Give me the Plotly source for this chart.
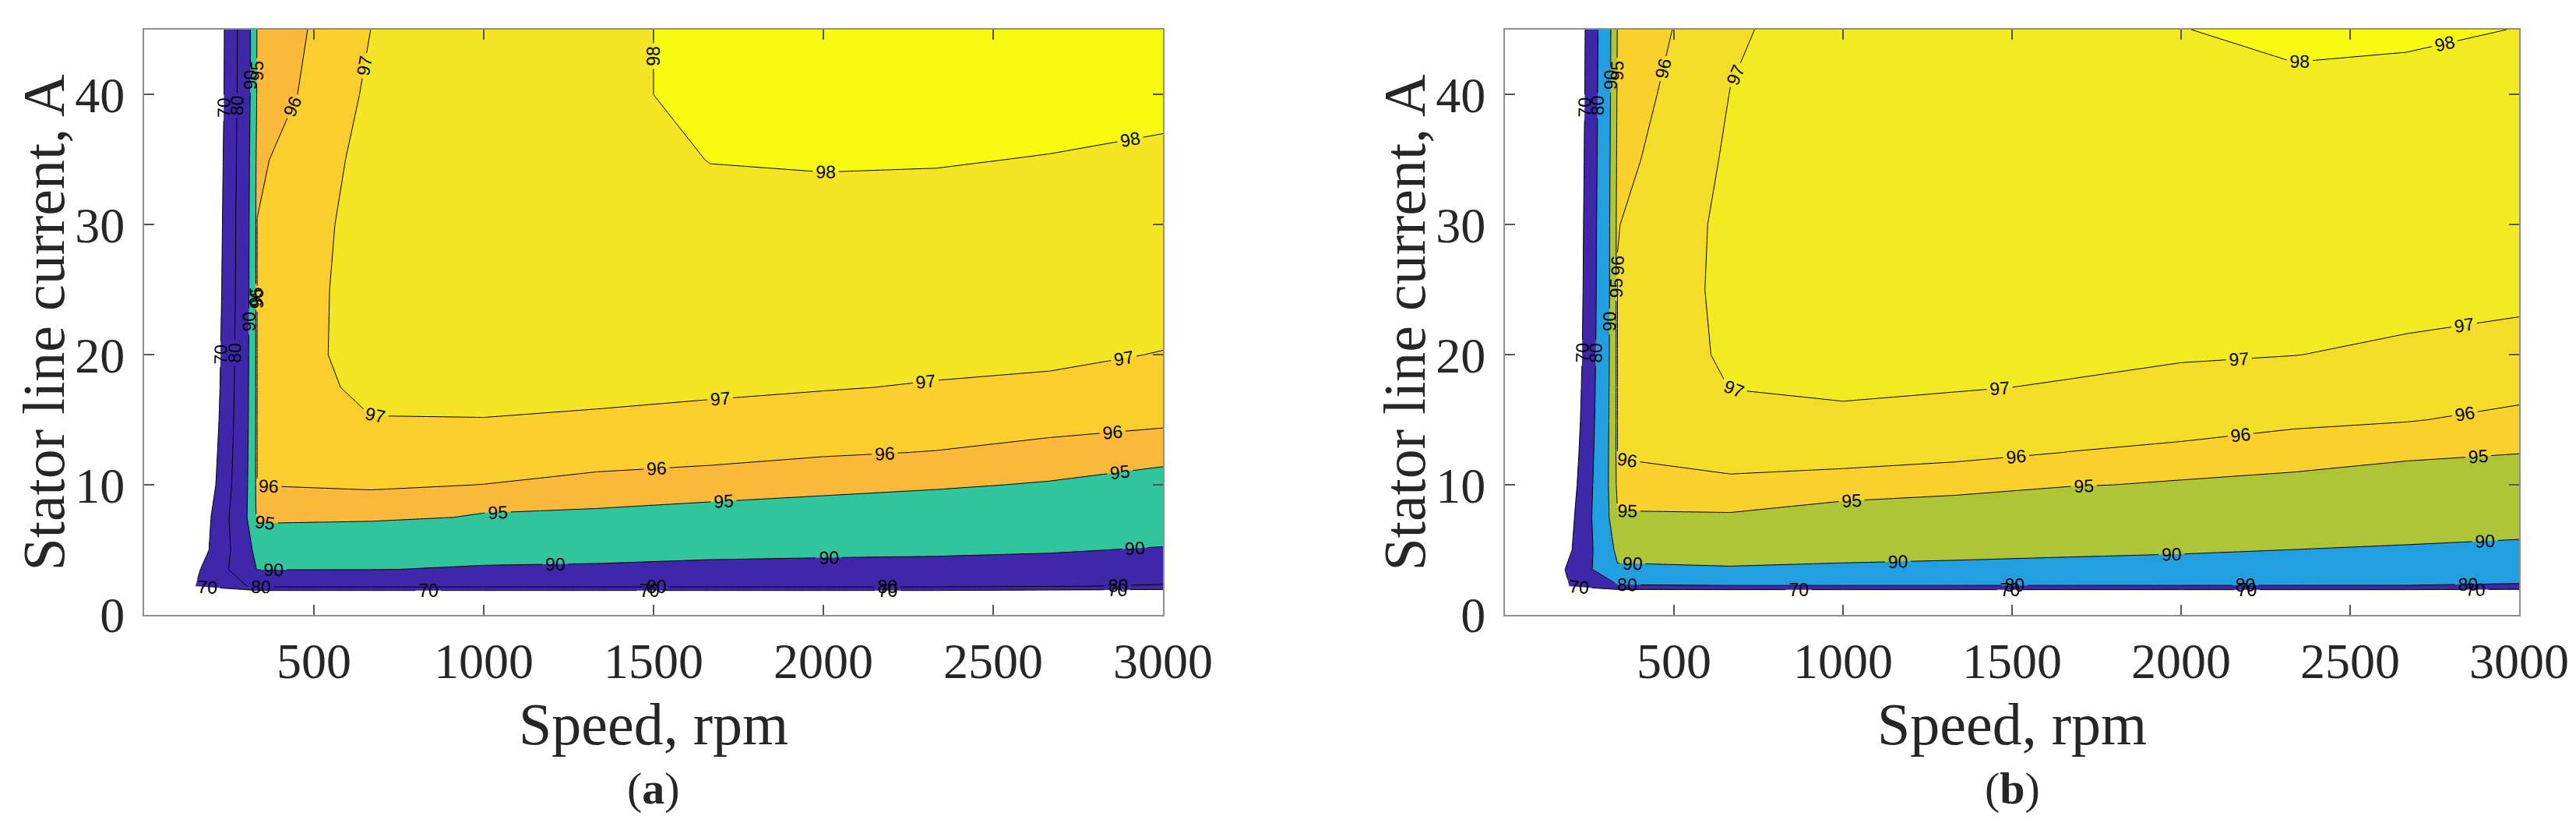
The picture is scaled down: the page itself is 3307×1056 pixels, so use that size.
import numpy as np
import plotly.graph_objects as go

# ---------------- data ----------------
speed_rpm = [0, 333, 667, 1000, 1333, 1667, 2000, 2333, 2667, 3000]
current_A = [0, 2.2, 3.5, 5, 7.5, 10, 12.5, 15, 17.5, 20, 25, 30, 35, 40, 45]

# efficiency (%) for each speed column, listed from 0 A up to 45 A  -- panel (a)
eff_a_by_speed = [
    [0, 60, 50, 40, 33, 25, 22, 19, 17, 15.7, 13, 11.5, 10, 9, 8.6],
    [0, 82, 90.2, 92.3, 95.6, 96.01, 96.02, 96.03, 96.03, 96.03, 96.03, 96.02, 95.84, 95.35, 95.2],
    [0, 82, 90.13, 92.1, 95.4, 96.11, 96.5, 96.95, 97.35, 97.58, 97.55, 97.45, 97.33, 97.18, 97.0],
    [0, 82, 89.6, 91.5, 94.85, 95.99, 96.5, 96.98, 97.25, 97.4, 97.55, 97.62, 97.66, 97.66, 97.6],
    [0, 82, 89.44, 91.3, 94.7, 95.8, 96.3, 96.9, 97.2, 97.38, 97.58, 97.7, 97.8, 97.88, 97.85],
    [0, 82, 89.14, 90.86, 94.5, 95.55, 96.3, 96.8, 97.12, 97.35, 97.62, 97.85, 98.01, 98.12, 98.15],
    [0, 82, 89.05, 90.64, 94.3, 95.35, 96.1, 96.6, 97.05, 97.3, 97.6, 97.83, 98.04, 98.18, 98.25],
    [0, 82, 89.0, 90.49, 94.1, 95.15, 95.97, 96.5, 96.94, 97.22, 97.55, 97.8, 98.03, 98.2, 98.3],
    [0, 80.5, 88.9, 90.22, 93.7, 94.9, 95.75, 96.3, 96.85, 97.15, 97.5, 97.75, 97.98, 98.2, 98.35],
    [0, 79, 88.0, 89.79, 91.9, 94.3, 95.55, 96.15, 96.55, 96.97, 97.4, 97.65, 97.9, 98.15, 98.3],
]

# efficiency (%) for each speed column, listed from 0 A up to 45 A  -- panel (b)
eff_b_by_speed = [
    [0, 58, 48, 38, 30, 24, 20, 17, 15, 13, 11, 10, 9, 8, 7.5],
    [0, 79, 89.2, 91.67, 94.8, 95.8, 96.05, 96.04, 96.04, 96.04, 96.04, 95.97, 95.7, 95.45, 95.2],
    [0, 79.5, 89.7, 91.5, 94.85, 95.85, 96.3, 96.7, 97.02, 97.2, 97.28, 97.26, 97.15, 97.02, 96.85],
    [0, 79.5, 89.45, 91.1, 94.3, 95.7, 96.3, 96.8, 97.15, 97.3, 97.45, 97.55, 97.6, 97.6, 97.55],
    [0, 79.5, 89.27, 90.83, 94.15, 95.4, 96.25, 96.7, 97.05, 97.25, 97.45, 97.58, 97.67, 97.73, 97.8],
    [0, 79.5, 89.1, 90.52, 93.2, 95.1, 95.99, 96.45, 96.95, 97.15, 97.42, 97.58, 97.68, 97.77, 97.88],
    [0, 79.5, 89.0, 90.27, 92.5, 94.85, 95.85, 96.3, 96.75, 97.08, 97.4, 97.6, 97.75, 97.88, 97.99],
    [0, 79.5, 88.5, 89.98, 92.1, 94.6, 95.62, 96.15, 96.62, 97.01, 97.35, 97.58, 97.75, 97.9, 98.1],
    [0, 79.5, 88.0, 89.68, 91.7, 94.2, 95.29, 96.05, 96.45, 96.88, 97.25, 97.5, 97.68, 97.85, 98.08],
    [0, 78.5, 87.5, 89.37, 91.33, 93.28, 95.08, 95.78, 96.26, 96.72, 97.2, 97.45, 97.65, 97.82, 97.99],
]

levels = [70, 80, 90, 95, 96, 97, 98]
fill_colors_a = ["#3e27a8", "#3e27a8", "#31c59d", "#fbb93c", "#face2d", "#f3e524", "#f8fa10"]
fill_colors_b = ["#3e27a8", "#229fe0", "#afc538", "#fad02d", "#f4dd29", "#f3eb21", "#f8fa10"]

x_ticks = [500, 1000, 1500, 2000, 2500, 3000]
y_ticks = [0, 10, 20, 30, 40]

x_title = "Speed, rpm"
y_title = "Stator line current, A"
panel_tags = ["(<b>a</b>)", "(<b>b</b>)"]

# ---------------- figure ----------------
W, H = 3307, 1056
SERIF = "Liberation Serif, Times New Roman, serif"
SANS = "Liberation Sans, Arial, sans-serif"
TXT = "#262626"
LABEL_DENSITY = 95   # extra (empty) levels -> plotly puts more labels on each line

fig = go.Figure()

panels = [
    (np.array(eff_a_by_speed).T, fill_colors_a, "x", "y"),
    (np.array(eff_b_by_speed).T, fill_colors_b, "x2", "y2"),
]
for z, cols, xa, ya in panels:
    # filled bands: constraint contours shade the region violating the constraint,
    # so "< lvl" shades the area where efficiency >= lvl
    for lvl, col in zip(levels, cols):
        fig.add_trace(go.Contour(
            x=speed_rpm, y=current_A, z=z, xaxis=xa, yaxis=ya,
            contours=dict(type="constraint", operation="<", value=lvl, showlabels=False),
            fillcolor=col,
            line=dict(color="rgba(0,0,0,0)", width=0, smoothing=0),
            showscale=False, hoverinfo="skip",
        ))
    # labelled iso-lines
    for lvl in levels:
        fig.add_trace(go.Contour(
            x=speed_rpm, y=current_A, z=z, xaxis=xa, yaxis=ya,
            autocontour=False,
            contours=dict(type="levels", coloring="none", start=lvl,
                          end=lvl + 1000 * (LABEL_DENSITY - 1), size=1000,
                          showlabels=True, labelformat="d",
                          labelfont=dict(family=SANS, size=23, color="black")),
            line=dict(color="black", width=1, smoothing=0),
            showscale=False, hoverinfo="skip",
        ))

py0, py1 = 30, 781  # plot top/bottom pixel rows
ydom = [1 - py1 / H, 1 - py0 / H]
xdoms = [[177 / W, 1485 / W], [1924 / W, 3226 / W]]

axis_common = dict(
    showline=True, linecolor="#8f8f8f", linewidth=2, mirror="ticks",
    ticks="inside", ticklen=13, tickwidth=1.5, tickcolor="#555555",
    showgrid=False, zeroline=False, automargin=False,
    tickfont=dict(family=SERIF, size=64, color=TXT),
)

layout = dict(
    width=W, height=H,
    margin=dict(l=0, r=0, t=0, b=0),
    paper_bgcolor="white", plot_bgcolor="white",
    showlegend=False,
)
for i, (xname, yname) in enumerate([("xaxis", "yaxis"), ("xaxis2", "yaxis2")]):
    xa_anchor = "y" if i == 0 else "y2"
    ya_anchor = "x" if i == 0 else "x2"
    layout[xname] = dict(axis_common, domain=xdoms[i], anchor=xa_anchor,
                         range=[0, 3000], tickvals=x_ticks, ticklabelstandoff=2)
    layout[yname] = dict(axis_common, domain=ydom, anchor=ya_anchor,
                         range=[0, 45], tickvals=y_ticks, ticklabelstandoff=10)

fig.update_layout(**layout)

ann = []
for i in range(2):
    xc = (xdoms[i][0] + xdoms[i][1]) / 2
    ann.append(dict(text=x_title, x=xc, y=1 - 921 / H, xref="paper", yref="paper",
                    xanchor="center", yanchor="middle", showarrow=False,
                    font=dict(family=SERIF, size=76, color=TXT)))
    ann.append(dict(text=panel_tags[i], x=xc, y=1 - 1003 / H, xref="paper", yref="paper",
                    xanchor="center", yanchor="middle", showarrow=False,
                    font=dict(family=SERIF, size=58, color=TXT)))
    ylx = (47 if i == 0 else 1794) / W
    ann.append(dict(text=y_title, x=ylx, y=(ydom[0] + ydom[1]) / 2, xref="paper", yref="paper",
                    xanchor="center", yanchor="middle", showarrow=False, textangle=-90,
                    font=dict(family=SERIF, size=76, color=TXT)))
fig.update_layout(annotations=ann)

fig.write_html("out.html")
